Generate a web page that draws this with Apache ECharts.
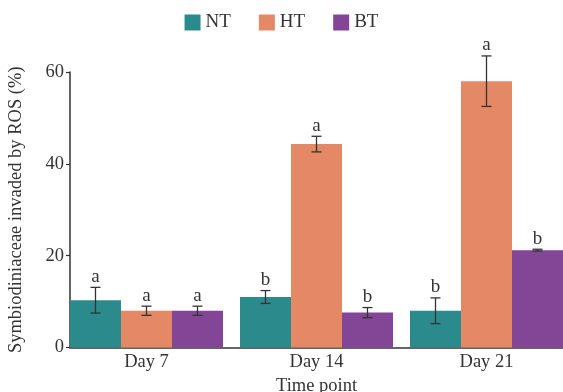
<!DOCTYPE html>
<html>
<head>
<meta charset="utf-8">
<script src="https://cdn.jsdelivr.net/npm/echarts@6/dist/echarts.min.js"></script>
<style>
  html, body { margin: 0; padding: 0; background: #fff; }
  #chart { width: 563px; height: 392px; }
</style>
</head>
<body>
<div id="chart"></div>
<script>
// Time points on the x axis
const days = ['Day 7', 'Day 14', 'Day 21'];
// Treatment groups
const groups = ['NT', 'HT', 'BT'];
const groupColors = ['#2b8a8c', '#e48865', '#834596'];

// Mean percentage of Symbiodiniaceae invaded by ROS
const ntMean = [10.3, 11.0, 8.0];
const htMean = [8.0, 44.3, 58.0];
const btMean = [8.0, 7.6, 21.2];

// Error (± half-range of the error bar)
const ntErr = [2.8, 1.4, 2.8];
const htErr = [1.0, 1.7, 5.5];
const btErr = [1.0, 1.1, 0.2];

// Significance letters
const ntSig = ['a', 'b', 'b'];
const htSig = ['a', 'a', 'a'];
const btSig = ['a', 'b', 'b'];

const yTicks = [0, 20, 40, 60];

const means = [ntMean, htMean, btMean];
const errs = [ntErr, htErr, btErr];
const sigs = [ntSig, htSig, btSig];

const FONT = '"Liberation Serif", "Times New Roman", serif';
const TEXT = '#333333';
const BAR_SPAN = 0.3;   // width of a single bar in category units
const CAP = 5;          // half width of error bar caps (px)

function makeSeries(gi) {
  const data = days.map((d, i) => [i, means[gi][i], errs[gi][i]]);
  return {
    name: groups[gi],
    type: 'custom',
    clip: false,
    itemStyle: { color: groupColors[gi] },
    data: data,
    encode: { x: 0, y: 1 },
    renderItem: function (params, api) {
      const x = api.value(0) + (gi - 1) * BAR_SPAN;
      const v = api.value(1);
      const e = api.value(2);
      const letter = sigs[gi][params.dataIndex];
      const tl = api.coord([x - BAR_SPAN / 2, v]);
      const br = api.coord([x + BAR_SPAN / 2, 0]);
      const hi = api.coord([x, v + e]);
      const lo = api.coord([x, v - e]);
      const lineStyle = { stroke: '#333333', lineWidth: 1.3 };
      return {
        type: 'group',
        children: [
          {
            type: 'rect',
            shape: { x: tl[0], y: tl[1], width: br[0] - tl[0], height: br[1] - tl[1] },
            style: { fill: groupColors[gi] }
          },
          { type: 'line', shape: { x1: hi[0], y1: hi[1], x2: lo[0], y2: lo[1] }, style: lineStyle },
          { type: 'line', shape: { x1: hi[0] - CAP, y1: hi[1], x2: hi[0] + CAP, y2: hi[1] }, style: lineStyle },
          { type: 'line', shape: { x1: lo[0] - CAP, y1: lo[1], x2: lo[0] + CAP, y2: lo[1] }, style: lineStyle },
          {
            type: 'text',
            x: hi[0],
            y: hi[1] - 1,
            style: {
              text: letter,
              fill: TEXT,
              font: '19px ' + FONT,
              align: 'center',
              verticalAlign: 'bottom'
            }
          }
        ]
      };
    }
  };
}

const chart = echarts.init(document.getElementById('chart'), null, { renderer: 'canvas' });
chart.setOption({
  animation: false,
  backgroundColor: '#ffffff',
  textStyle: { fontFamily: FONT },
  legend: {
    data: groups,
    top: 8,
    left: 'center',
    icon: 'rect',
    itemWidth: 16,
    itemHeight: 16,
    itemGap: 28,
    textStyle: { fontFamily: FONT, fontSize: 19, color: TEXT }
  },
  grid: { left: 70, right: 0, top: 72, bottom: 44.5, containLabel: false, outerBoundsMode: 'none' },
  xAxis: {
    type: 'value',
    min: -0.45,
    max: 2.45,
    splitLine: { show: false },
    axisLine: { show: true, onZero: false, lineStyle: { color: '#333333', width: 1.5 } },
    axisTick: { show: false },
    axisLabel: {
      customValues: [0, 1, 2],
      formatter: v => days[Math.round(v)],
      fontFamily: FONT,
      fontSize: 18.5,
      color: TEXT,
      margin: 5
    },
    name: 'Time point',
    nameLocation: 'middle',
    nameGap: 23,
    nameTextStyle: { fontFamily: FONT, fontSize: 18.5, color: TEXT }
  },
  yAxis: {
    type: 'value',
    min: yTicks[0],
    max: yTicks[yTicks.length - 1],
    interval: 20,
    splitLine: { show: false },
    axisLine: { show: true, onZero: false, lineStyle: { color: '#333333', width: 1.5 } },
    axisTick: { show: true, length: 4, lineStyle: { color: '#333333', width: 1.2 } },
    axisLabel: { fontFamily: FONT, fontSize: 18.5, color: TEXT, margin: 6 },
    name: 'Symbiodiniaceae invaded by ROS (%)',
    nameLocation: 'middle',
    nameGap: 44,
    nameTextStyle: { fontFamily: FONT, fontSize: 18.5, color: TEXT }
  },
  series: [makeSeries(0), makeSeries(1), makeSeries(2)]
});
</script>
</body>
</html>
